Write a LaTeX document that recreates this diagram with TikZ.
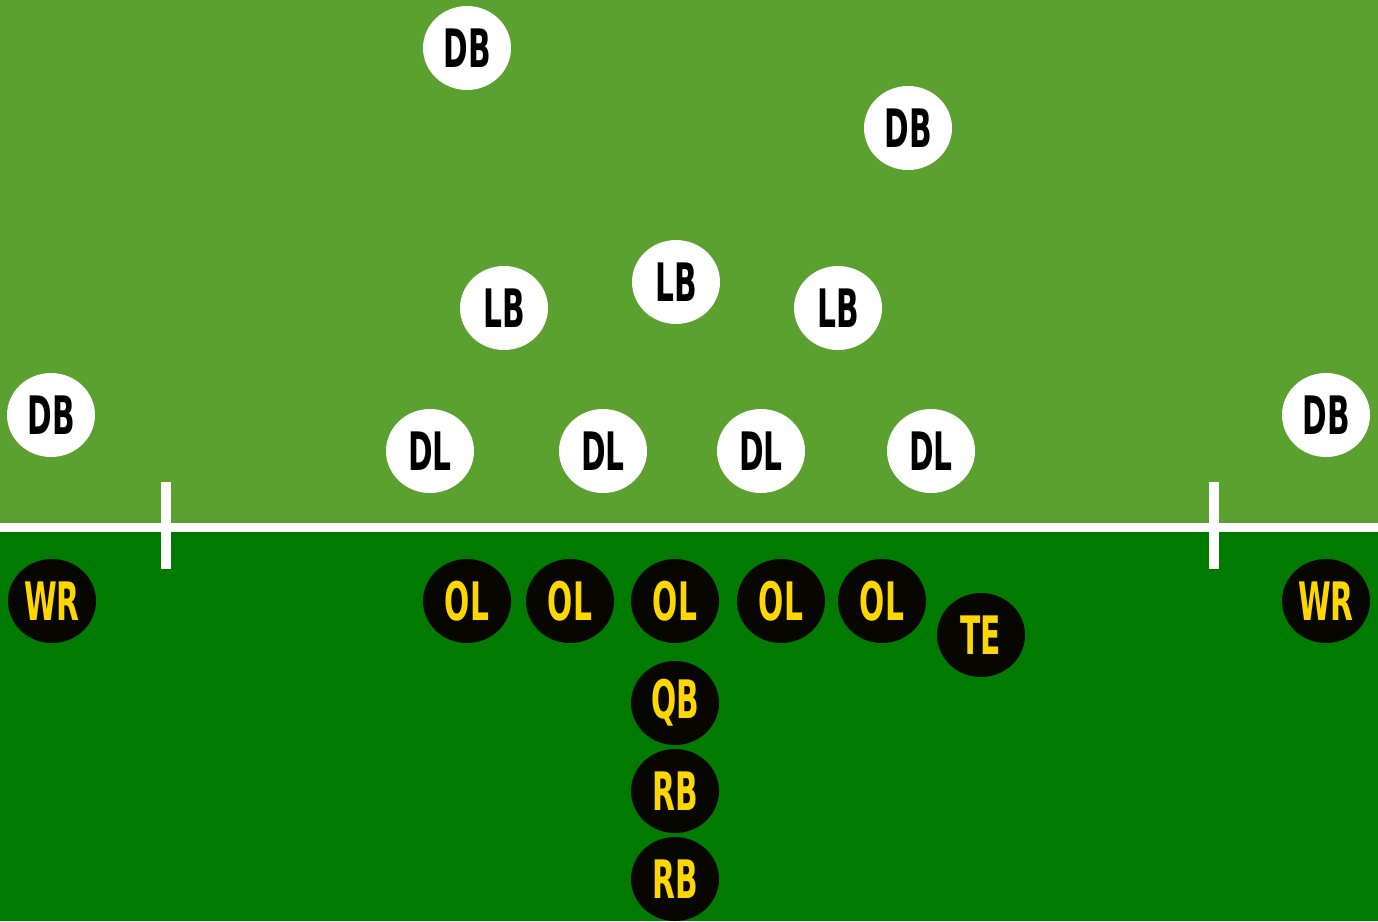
\documentclass[tikz,border=0pt]{standalone}
\usepackage{fontspec}
\setmainfont{DejaVu Sans}
\usepackage{graphicx}
\usetikzlibrary{shapes.geometric}
\definecolor{fieldtop}{HTML}{5BA12F}
\definecolor{fieldbot}{HTML}{007B00}
\definecolor{offblack}{HTML}{080600}
\definecolor{gold}{HTML}{FFD700}
\newcommand{\plbl}[1]{\scalebox{0.56}[1]{#1}}
\begin{document}
\begin{tikzpicture}[x=1pt,y=-1pt,
  player/.style={ellipse, minimum width=88pt, minimum height=84pt, inner sep=0pt,
    font=\fontsize{53}{53}\selectfont\bfseries},
  defense/.style={player, fill=white, text=black},
  offense/.style={player, fill=offblack, text=gold},
  ]
\useasboundingbox (0,0) rectangle (1378,921);
\fill[fieldtop] (0,0) rectangle (1378,527);
\fill[fieldbot] (0,527) rectangle (1378,921);
\fill[white] (0,523) rectangle (1378,532);
\fill[white] (161,482) rectangle (171,569);
\fill[white] (1209,482) rectangle (1219,569);
% defense
\node[defense] (db1) at (467,48) {\plbl{DB}};
\node[defense] (db2) at (908,128) {\plbl{DB}};
\node[defense] (lb1) at (504,308) {\plbl{LB}};
\node[defense] (lb2) at (676,282) {\plbl{LB}};
\node[defense] (lb3) at (838,308) {\plbl{LB}};
\node[defense] (db3) at (51,415) {\plbl{DB}};
\node[defense] (db4) at (1326,415) {\plbl{DB}};
\node[defense] (dl1) at (430,451) {\plbl{DL}};
\node[defense] (dl2) at (603,451) {\plbl{DL}};
\node[defense] (dl3) at (761,451) {\plbl{DL}};
\node[defense] (dl4) at (931,451) {\plbl{DL}};
% offense
\node[offense] (wr1) at (52,601) {\plbl{WR}};
\node[offense] (wr2) at (1326,601) {\plbl{WR}};
\node[offense] (ol1) at (467,601) {\plbl{OL}};
\node[offense] (ol2) at (570,601) {\plbl{OL}};
\node[offense] (ol3) at (675,601) {\plbl{OL}};
\node[offense] (ol4) at (781,601) {\plbl{OL}};
\node[offense] (ol5) at (882,601) {\plbl{OL}};
\node[offense] (te) at (981,635) {\plbl{TE}};
\node[offense] (qb) at (675,703) {\plbl{QB}};
\node[offense] (rb1) at (675,791) {\plbl{RB}};
\node[offense] (rb2) at (675,879) {\plbl{RB}};
\end{tikzpicture}
\end{document}
